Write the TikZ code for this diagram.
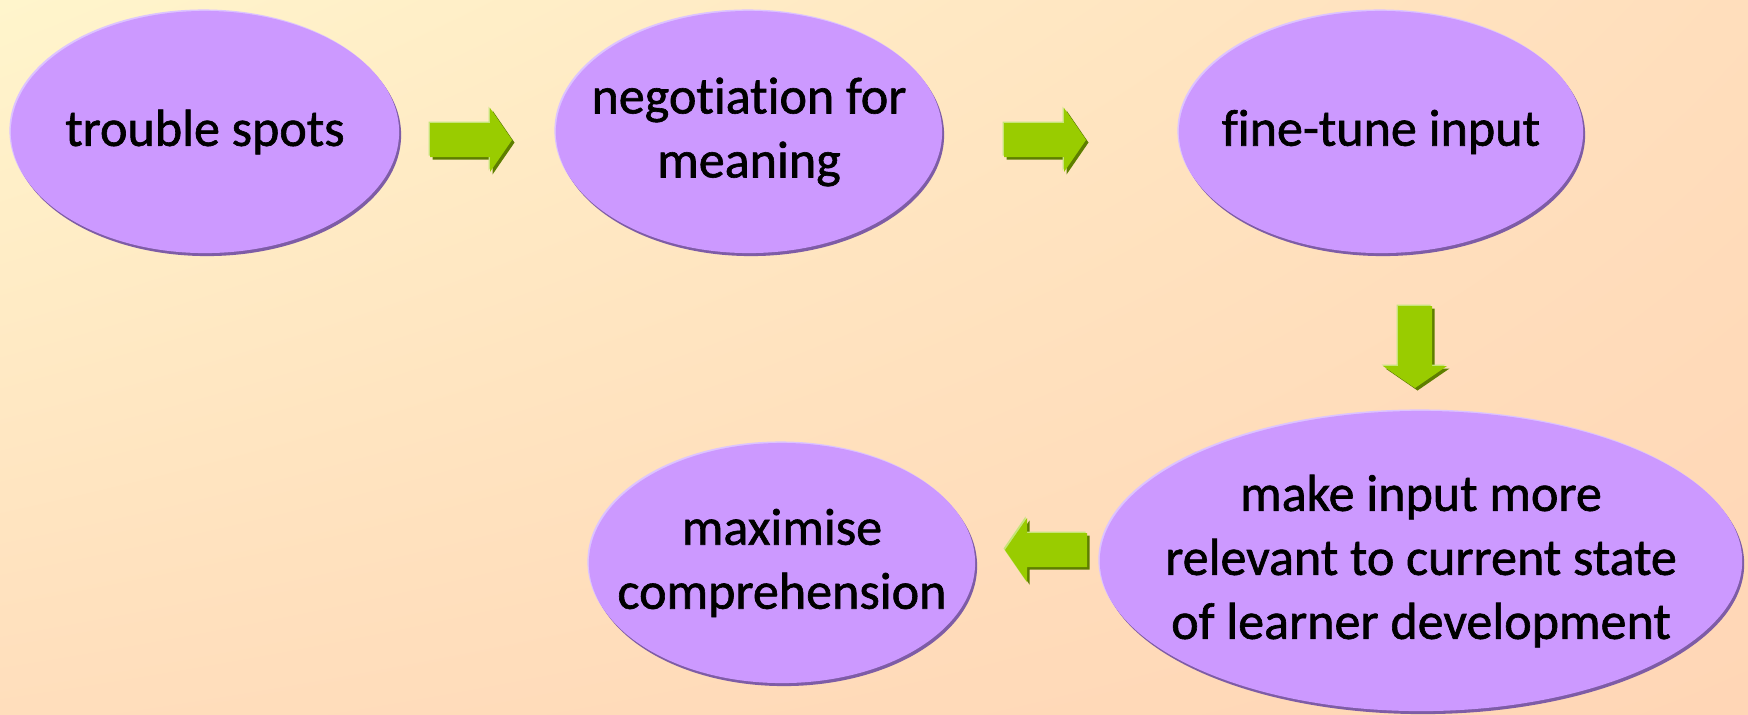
\documentclass[tikz,border=0pt]{standalone}
\usepackage{fontspec}
\setmainfont{Carlito}
\newfontface\bubblefont{Carlito}[FakeBold=1.2, Ligatures=NoCommon]
\usepackage{xcolor}
\usetikzlibrary{shapes.geometric,shadows,shadings}

\definecolor{lilac}{HTML}{CC99FF}
\definecolor{lilacdark}{HTML}{7E5CA6}
\definecolor{lilaclight}{HTML}{DDC4FF}
\definecolor{arrowgreen}{HTML}{99CC00}
\definecolor{arrowdark}{HTML}{5E7E00}
\definecolor{arrowlight}{HTML}{C6E47A}
\definecolor{bgtl}{RGB}{255,245,204}
\definecolor{bgtr}{RGB}{255,222,188}
\definecolor{bgbl}{RGB}{255,222,188}
\definecolor{bgbr}{RGB}{255,214,182}

\tikzset{
  bubble/.style={ellipse, fill=lilac, inner sep=0pt,
    general shadow={fill=lilaclight, shadow xshift=-0.15mm, shadow yshift=0.15mm},
    general shadow={fill=lilacdark, shadow xshift=0.2mm, shadow yshift=-0.3mm}},
  bubbletext/.style={align=center, inner sep=0pt, font=\bubblefont\fontsize{14.8}{18.2}\selectfont},
  pics/bigarrow/.style={code={
    \fill[#1] (-41,-17) -- (19,-17) -- (19,-32) -- (41,0) -- (19,32) -- (19,17) -- (-41,17) -- cycle;
  }}
}

\begin{document}
\begin{tikzpicture}[x=0.01cm,y=-0.01cm]
  \useasboundingbox (0,0) rectangle (1748,714);
  \shade[upper left=bgtl, upper right=bgtr, lower left=bgbl, lower right=bgbr]
    (0,0) rectangle (1748,714);

  % the five steps
  \node[bubble, minimum width=3.88cm, minimum height=2.42cm] (trouble) at (205,132) {};
  \node[bubble, minimum width=3.86cm, minimum height=2.42cm] (negotiate) at (749,132) {};
  \node[bubble, minimum width=4.04cm, minimum height=2.42cm] (finetune) at (1381,132) {};
  \node[bubble, minimum width=6.42cm, minimum height=3.00cm] (relevant) at (1421,561) {};
  \node[bubble, minimum width=3.86cm, minimum height=2.40cm] (maximise) at (782,563) {};

  \node[bubbletext] (troubletext) at (trouble) {trouble spots};
  \node[bubbletext] (negotiatetext) at (negotiate) {negotiation for\\meaning};
  \node[bubbletext] (finetunetext) at (finetune) {fine-tune input};
  \node[bubbletext] (relevanttext) at (relevant) {make input more\\relevant to current state\\of learner development};
  \node[bubbletext] (maximisetext) at (maximise) {maximise\\comprehension};

  % block arrows between them
  \coordinate (a12) at (471,140);
  \coordinate (a23) at (1045,140);
  \coordinate (a34) at (1415,347);
  \coordinate (a45) at (1046,550);
  \foreach \pos/\ang in {a12/0, a23/0, a34/-90, a45/180}{
    \pic[rotate=\ang] at ([shift={(2.5,2.5)}]\pos) {bigarrow=arrowdark};
    \pic[rotate=\ang] at ([shift={(-1.5,-1.5)}]\pos) {bigarrow=arrowlight};
    \pic[rotate=\ang] at (\pos) {bigarrow=arrowgreen};
  }
\end{tikzpicture}
\end{document}
